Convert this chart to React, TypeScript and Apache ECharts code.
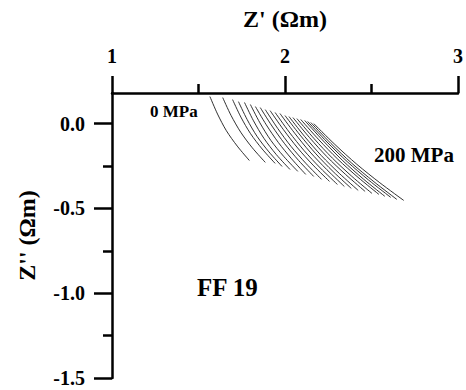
import React, { useEffect, useRef } from "react";
import * as echarts from "echarts";

// Pressure of each sweep (MPa), 0 .. 200
const PRESSURES = [0, 10, 20, 30, 40, 50, 60, 70, 80, 90, 100, 110, 120, 130, 140, 150, 160, 170, 180, 190, 200];

// Each sweep read as five points along the arc (Z' values, then Z'' values)
const RE_P0 = [1.566, 1.64, 1.697, 1.731, 1.766, 1.8, 1.829, 1.857, 1.886, 1.914, 1.943, 1.971, 2.0, 2.023, 2.046, 2.069, 2.091, 2.114, 2.131, 2.149, 2.166];
const IM_P0 = [0.159, 0.153, 0.141, 0.129, 0.124, 0.112, 0.1, 0.094, 0.082, 0.076, 0.065, 0.059, 0.047, 0.041, 0.035, 0.029, 0.024, 0.018, 0.012, 0.006, 0.0];
const RE_P1 = [1.61, 1.688, 1.745, 1.781, 1.818, 1.855, 1.892, 1.925, 1.958, 1.991, 2.024, 2.056, 2.087, 2.114, 2.142, 2.169, 2.196, 2.222, 2.243, 2.265, 2.288];
const IM_P1 = [0.056, 0.048, 0.038, 0.024, 0.016, 0.004, -0.008, -0.015, -0.029, -0.036, -0.05, -0.057, -0.068, -0.077, -0.083, -0.09, -0.096, -0.103, -0.109, -0.117, -0.123];
const RE_P2 = [1.661, 1.744, 1.801, 1.838, 1.878, 1.918, 1.961, 1.998, 2.035, 2.073, 2.11, 2.145, 2.179, 2.21, 2.242, 2.274, 2.305, 2.334, 2.36, 2.386, 2.415];
const IM_P2 = [-0.042, -0.051, -0.06, -0.075, -0.087, -0.099, -0.111, -0.119, -0.135, -0.144, -0.159, -0.168, -0.179, -0.189, -0.195, -0.204, -0.21, -0.219, -0.225, -0.234, -0.24];
const RE_P3 = [1.724, 1.811, 1.868, 1.907, 1.949, 1.992, 2.038, 2.079, 2.12, 2.162, 2.204, 2.242, 2.278, 2.314, 2.35, 2.386, 2.422, 2.453, 2.483, 2.514, 2.548];
const IM_P3 = [-0.133, -0.143, -0.15, -0.167, -0.182, -0.193, -0.208, -0.218, -0.234, -0.245, -0.262, -0.272, -0.283, -0.294, -0.3, -0.311, -0.317, -0.327, -0.333, -0.343, -0.349];
const RE_P4 = [1.794, 1.886, 1.943, 1.983, 2.029, 2.074, 2.12, 2.166, 2.211, 2.257, 2.303, 2.343, 2.383, 2.423, 2.463, 2.503, 2.543, 2.577, 2.611, 2.646, 2.686];
const IM_P4 = [-0.218, -0.229, -0.235, -0.253, -0.271, -0.282, -0.3, -0.312, -0.329, -0.341, -0.359, -0.371, -0.382, -0.394, -0.4, -0.412, -0.418, -0.429, -0.435, -0.447, -0.453];

// Axis ticks
const X_MIN = 1;
const X_MAX = 3;
const X_STEP = 1;
const Y_MIN = -1.5;
const Y_MAX = 0.18;
const Y_MAJOR = [-1.5, -1.0, -0.5, 0.0];
const Y_MINOR = [-1.25, -0.75, -0.25];

const X_NAME = "Z' (Ωm)";
const Y_NAME = "Z'' (Ωm)";
const LABEL_LOW = "0 MPa";
const LABEL_HIGH = "200 MPa";
const SAMPLE = "FF 19";

const FONT = "'Liberation Serif', 'Times New Roman', serif";

export default function App() {
  const ref = useRef<HTMLDivElement>(null);

  useEffect(() => {
    if (!ref.current) return;
    const chart = echarts.init(ref.current, undefined, { renderer: "svg" });

    const series = PRESSURES.map((p, i) => ({
      name: p + " MPa",
      type: "line",
      xAxisIndex: 0,
      yAxisIndex: 0,
      smooth: 0.3,
      showSymbol: false,
      silent: true,
      lineStyle: { color: "#1a1a1a", width: 0.9 },
      data: [
        [RE_P0[i], IM_P0[i]],
        [RE_P1[i], IM_P1[i]],
        [RE_P2[i], IM_P2[i]],
        [RE_P3[i], IM_P3[i]],
        [RE_P4[i], IM_P4[i]],
      ],
    }));

    const axisLine = { show: true, lineStyle: { color: "#000", width: 2.5 } };

    chart.setOption({
      animation: false,
      backgroundColor: "#fff",
      grid: { left: 112, right: 4, top: 93, bottom: 12 },
      xAxis: {
        type: "value",
        position: "top",
        min: X_MIN,
        max: X_MAX,
        interval: X_STEP,
        name: X_NAME,
        nameLocation: "middle",
        nameGap: 62,
        nameTextStyle: { fontFamily: FONT, fontWeight: "bold", fontSize: 24, color: "#000" },
        axisLine: { ...axisLine, onZero: false },
        axisTick: { show: true, length: 17, lineStyle: { color: "#000", width: 2.5 } },
        minorTick: { show: true, splitNumber: 2, length: 9, lineStyle: { color: "#000", width: 2.5 } },
        splitLine: { show: false },
        minorSplitLine: { show: false },
        axisLabel: {
          margin: 27,
          fontFamily: FONT,
          fontWeight: "bold",
          fontSize: 20,
          color: "#000",
          formatter: (v: number) => String(v),
        },
      },
      yAxis: [
        {
          type: "value",
          position: "left",
          min: Y_MIN,
          max: Y_MAX,
          interval: 0.5,
          name: Y_NAME,
          nameLocation: "middle",
          nameRotate: 90,
          nameGap: 73,
          nameTextStyle: { fontFamily: FONT, fontWeight: "bold", fontSize: 24, color: "#000" },
          axisLine: { ...axisLine, onZero: false },
          axisTick: { show: true, length: 18, customValues: Y_MAJOR, lineStyle: { color: "#000", width: 2.5 } },
          splitLine: { show: false },
          axisLabel: {
            margin: 27,
            customValues: Y_MAJOR,
            fontFamily: FONT,
            fontWeight: "bold",
            fontSize: 20,
            color: "#000",
            formatter: (v: number) => v.toFixed(1),
          },
        },
        {
          type: "value",
          position: "left",
          min: Y_MIN,
          max: Y_MAX,
          interval: 0.5,
          axisLine: { show: false, onZero: false },
          axisTick: { show: true, length: 9, customValues: Y_MINOR, lineStyle: { color: "#000", width: 2.5 } },
          axisLabel: { show: false },
          splitLine: { show: false },
        },
      ],
      graphic: [
        {
          type: "text",
          left: 150,
          top: 103,
          silent: true,
          style: { text: LABEL_LOW, fontFamily: FONT, fontWeight: "bold", fontSize: 17, fill: "#000" },
        },
        {
          type: "text",
          left: 374,
          top: 144,
          silent: true,
          style: { text: LABEL_HIGH, fontFamily: FONT, fontWeight: "bold", fontSize: 21, fill: "#000" },
        },
        {
          type: "text",
          left: 197,
          top: 275,
          silent: true,
          style: { text: SAMPLE, fontFamily: FONT, fontWeight: "bold", fontSize: 25, fill: "#000" },
        },
      ],
      series,
    });

    return () => chart.dispose();
  }, []);

  return (
    <div
      ref={ref}
      style={{ position: "fixed", left: 0, top: 0, width: 466, height: 390, background: "#fff" }}
    />
  );
}
